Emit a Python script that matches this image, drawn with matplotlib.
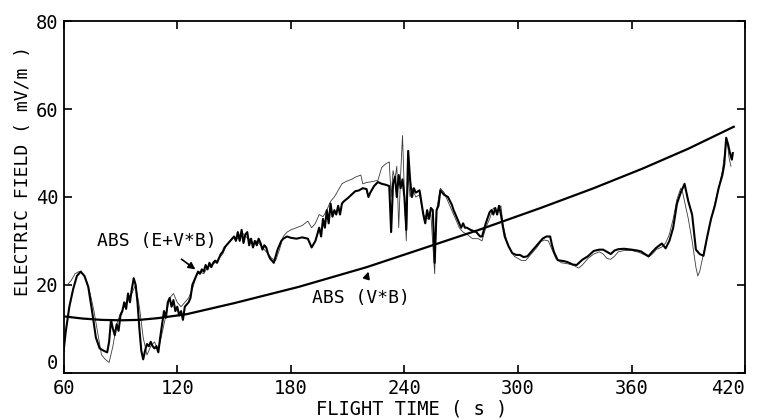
import numpy as np
import matplotlib
matplotlib.use('Agg')
import matplotlib.pyplot as plt

# |E + V x B| along the flight, first estimate (heavy trace)
t_heavy = [60, 61, 63, 65, 67, 69, 71, 73, 75, 77, 79, 81, 83, 84, 85, 86, 87, 88, 89, 90,
           91, 92, 93, 94, 95, 96, 97, 98, 99, 100, 101, 102, 103, 104, 105, 106, 107, 108, 109, 110,
           111, 112, 113, 114, 115, 116, 117, 118, 119, 120, 121, 122, 123, 124, 125, 126, 127, 128, 129, 130,
           131, 132, 133, 134, 135, 136, 137, 138, 139, 140, 141, 142, 143, 144, 145, 146, 147, 148, 149, 150,
           151, 152, 153, 154, 155, 156, 157, 158, 159, 160, 161, 162, 163, 164, 165, 166, 167, 168, 169, 170,
           171, 172, 173, 174, 175, 176, 178, 180, 183, 186, 189, 191, 193, 195, 196, 197, 198, 199, 200, 201,
           202, 203, 204, 205, 206, 207, 208, 210, 212, 214, 216, 218, 220, 221, 222, 224, 226, 228, 230, 232,
           233, 234, 235, 236, 237, 238, 239, 240, 241, 242, 243, 244, 245, 246, 248, 250, 251, 252, 253, 254,
           255, 256, 257, 258, 259, 261, 263, 265, 266, 267, 268, 269, 270, 271, 272, 273, 275, 278, 280, 281,
           283, 285, 286, 287, 288, 289, 290, 291, 292, 293, 295, 297, 299, 301, 303, 305, 307, 309, 311, 313,
           315, 317, 318, 319, 321, 324, 326, 329, 331, 334, 337, 340, 343, 345, 347, 349, 351, 353, 356, 360,
           363, 365, 367, 369, 371, 373, 376, 378, 380, 382, 384, 386, 388, 390, 392, 393, 394, 396, 398, 400,
           402, 404, 406, 408, 409, 410, 411, 412, 413, 413.5]
e_heavy = [5, 9, 15, 19, 22, 23, 22, 19.5, 14, 8, 5.5, 5, 4.6, 7, 12, 10, 8.5, 11, 9.5, 13,
           14, 16, 14.5, 18, 16, 19, 21.5, 20, 16, 10, 5, 3, 5, 6.5, 6, 7, 6, 5.5, 6, 4.6,
           8, 11, 14, 12.5, 16, 17, 15, 16.5, 14, 15, 13, 14, 12, 15, 15.5, 16, 17, 20, 21, 22,
           23, 22.5, 23.5, 23, 24.5, 23.5, 25, 24, 25, 25.5, 25, 26, 27, 27.5, 28.5, 29, 29.5, 30, 30.5, 31,
           30, 32, 30, 32.5, 29.5, 31.5, 32, 29, 30.5, 28.5, 30, 29, 30.5, 29.5, 28, 29, 28.5, 27, 26, 25.5,
           25, 26.5, 28, 29, 30, 30.5, 31, 30.7, 30.5, 30.8, 30.5, 28.5, 30, 33, 31, 35, 33, 37, 34, 38.5,
           35.5, 37, 36, 38, 36, 38.5, 39, 39.7, 40.5, 41.3, 41.5, 42, 41.8, 40, 41, 42.5, 43.4, 43, 42.8, 42.5,
           32, 43, 44.6, 40, 45, 42, 44, 40, 32.5, 50.5, 44, 40, 42, 41, 41.5, 36, 34, 37, 35, 37.5,
           37, 25, 37, 38, 41.5, 40.5, 40, 38.3, 37, 36, 35, 34, 33, 34, 33, 33, 32.5, 32, 31, 31,
           34, 36.5, 37, 36, 37.5, 36, 38, 36, 33.3, 31, 28.8, 27.2, 26.8, 26.8, 26.3, 26.5, 27.5, 28.5, 29.5, 30.5,
           31, 31, 29, 27.5, 25.6, 25.4, 25.2, 24.6, 24.5, 25.7, 26.5, 27.7, 28, 28, 27.5, 27, 27.8, 28.1, 28.2, 28,
           27.8, 27.6, 27, 26.5, 27.5, 28.4, 29.4, 28.3, 30, 33, 38.5, 41, 43, 39, 36, 32, 28, 27, 26.6, 31,
           35, 38, 42, 45, 47.5, 53.5, 52, 50, 48.5, 50]

# second estimate (light trace)
t_light = [60, 62, 64, 66, 68, 70, 72, 74, 76, 78, 80, 82, 84, 86, 88, 90, 92, 94, 96, 98,
           100, 102, 104, 106, 108, 110, 112, 114, 116, 118, 120, 122, 124, 126, 128, 130, 132, 134, 136, 138,
           140, 142, 144, 146, 148, 150, 152, 154, 156, 158, 160, 162, 164, 166, 168, 170, 172, 174, 176, 178,
           180, 183, 186, 189, 191, 193, 195, 197, 199, 201, 203, 205, 207, 209, 212, 214, 217, 218, 220, 223,
           226, 228, 230, 232, 233, 234, 235, 236, 237, 238, 239, 240, 241, 242, 243, 244, 246, 248, 250, 252,
           254, 256, 257, 259, 261, 263, 265, 267, 269, 271, 273, 276, 279, 281, 283, 285, 287, 289, 291, 292,
           294, 296, 298, 300, 302, 304, 306, 308, 310, 312, 314, 316, 318, 320, 323, 326, 329, 332, 334, 337,
           340, 343, 345, 347, 349, 351, 353, 356, 360, 363, 365, 367, 369, 371, 373, 376, 378, 380, 382, 384,
           386, 387, 388, 390, 392, 394, 395, 396, 398, 400, 402, 404, 406, 408, 409.5, 410.5, 411.5, 412.5]
e_light = [20, 20, 21, 22.5, 23, 22.5, 21, 18, 14, 9, 4, 3, 2.3, 6, 11, 13.5, 15, 17, 18, 20,
           15, 8, 4, 6, 7, 5, 9, 13, 17, 18, 16, 15, 16, 17, 19, 22, 23, 22.5, 24, 24.5,
           25, 26, 27, 29, 30, 31, 30.5, 32, 31, 30.5, 29, 30, 29, 28, 27, 26, 25.5, 28, 31, 32,
           32.5, 33, 33.5, 34.5, 33, 34, 36, 35.5, 37, 39, 40, 41.5, 43, 43.5, 44, 44.5, 45, 43, 43.3, 43.5,
           43.8, 46.7, 47.5, 48, 40, 46, 44, 47, 33, 45, 54, 41, 30, 45, 40, 42, 40, 40.5, 36, 35,
           36, 22.5, 37, 42, 41, 39, 37, 35, 33, 32, 31.5, 30.5, 30.5, 30, 33, 35, 37.5, 36.5, 38, 34,
           30, 28, 26.5, 26, 25.5, 25.5, 26.5, 27.5, 28.5, 29.8, 30.2, 30, 28, 26, 25, 24.8, 24.5, 23.8, 24.5, 26,
           27, 27.5, 27, 26, 25.8, 26.5, 27.5, 27.8, 27.8, 27.5, 27.2, 26.8, 26.3, 27, 28, 28.6, 29.5, 31.5, 35, 39.5,
           42, 41, 39, 35, 30, 24, 22, 23, 27, 31, 35, 38.5, 42, 46, 51, 53, 49, 47]

# |V x B| model curve
t_vb = [60, 70, 80, 90, 100, 110, 125, 150, 184, 220, 250, 280, 312, 340, 366, 390, 414]
e_vb = [12.8, 12.3, 12.0, 11.9, 12.0, 12.4, 13.3, 15.8, 19.5, 24.0, 28.3, 32.6, 37.5, 42.0, 46.5, 51.0, 56.0]

xticks = [60, 120, 180, 240, 300, 360, 420]
yticks = [0, 20, 40, 60, 80]

plt.rcParams['font.family'] = ['DejaVu Sans Mono']

fig = plt.figure(figsize=(7.58, 4.2), dpi=100, facecolor='white')
ax = fig.add_axes([0.084, 0.113, 0.899, 0.836])

ax.plot(t_light, e_light, color='#3a3a3a', lw=0.6)
ax.plot(t_heavy, e_heavy, color='black', lw=1.5)
ax.plot(t_vb, e_vb, color='black', lw=1.6)

ax.set_xlim(60, 420)
ax.set_ylim(0, 80)
ax.set_xticks(xticks)
ax.set_yticks(yticks)
ax.tick_params(direction='in', length=6, width=1.2, top=True, right=True,
               labelsize=13.5, pad=5)
ax.tick_params(axis='y', pad=4)
for s in ax.spines.values():
    s.set_linewidth(1.3)
# last time label sits against the right edge, zero label lifted off the corner
ax.get_xticklabels()[-1].set_horizontalalignment('right')
ax.get_yticklabels()[0].set_verticalalignment('bottom')

ax.set_xlabel('FLIGHT TIME ( s )', fontsize=13.5, va='center')
ax.xaxis.set_label_coords(0.51, -0.105)
ax.set_ylabel('ELECTRIC FIELD ( mV/m )', fontsize=13, va='center')
ax.yaxis.set_label_coords(-0.06, 0.575)

ax.annotate('ABS (E+V*B)', xy=(129.6, 23.5), xytext=(109, 30),
            ha='center', va='center', fontsize=13,
            arrowprops=dict(arrowstyle='-|>', color='black', lw=1.2,
                            shrinkA=8, shrinkB=0, mutation_scale=10))
ax.annotate('ABS (V*B)', xy=(221, 23), xytext=(217, 17),
            ha='center', va='center', fontsize=13,
            arrowprops=dict(arrowstyle='-|>', color='black', lw=1.2,
                            shrinkA=7, shrinkB=0, mutation_scale=10))

plt.savefig('out.png', dpi=100, facecolor='white')
